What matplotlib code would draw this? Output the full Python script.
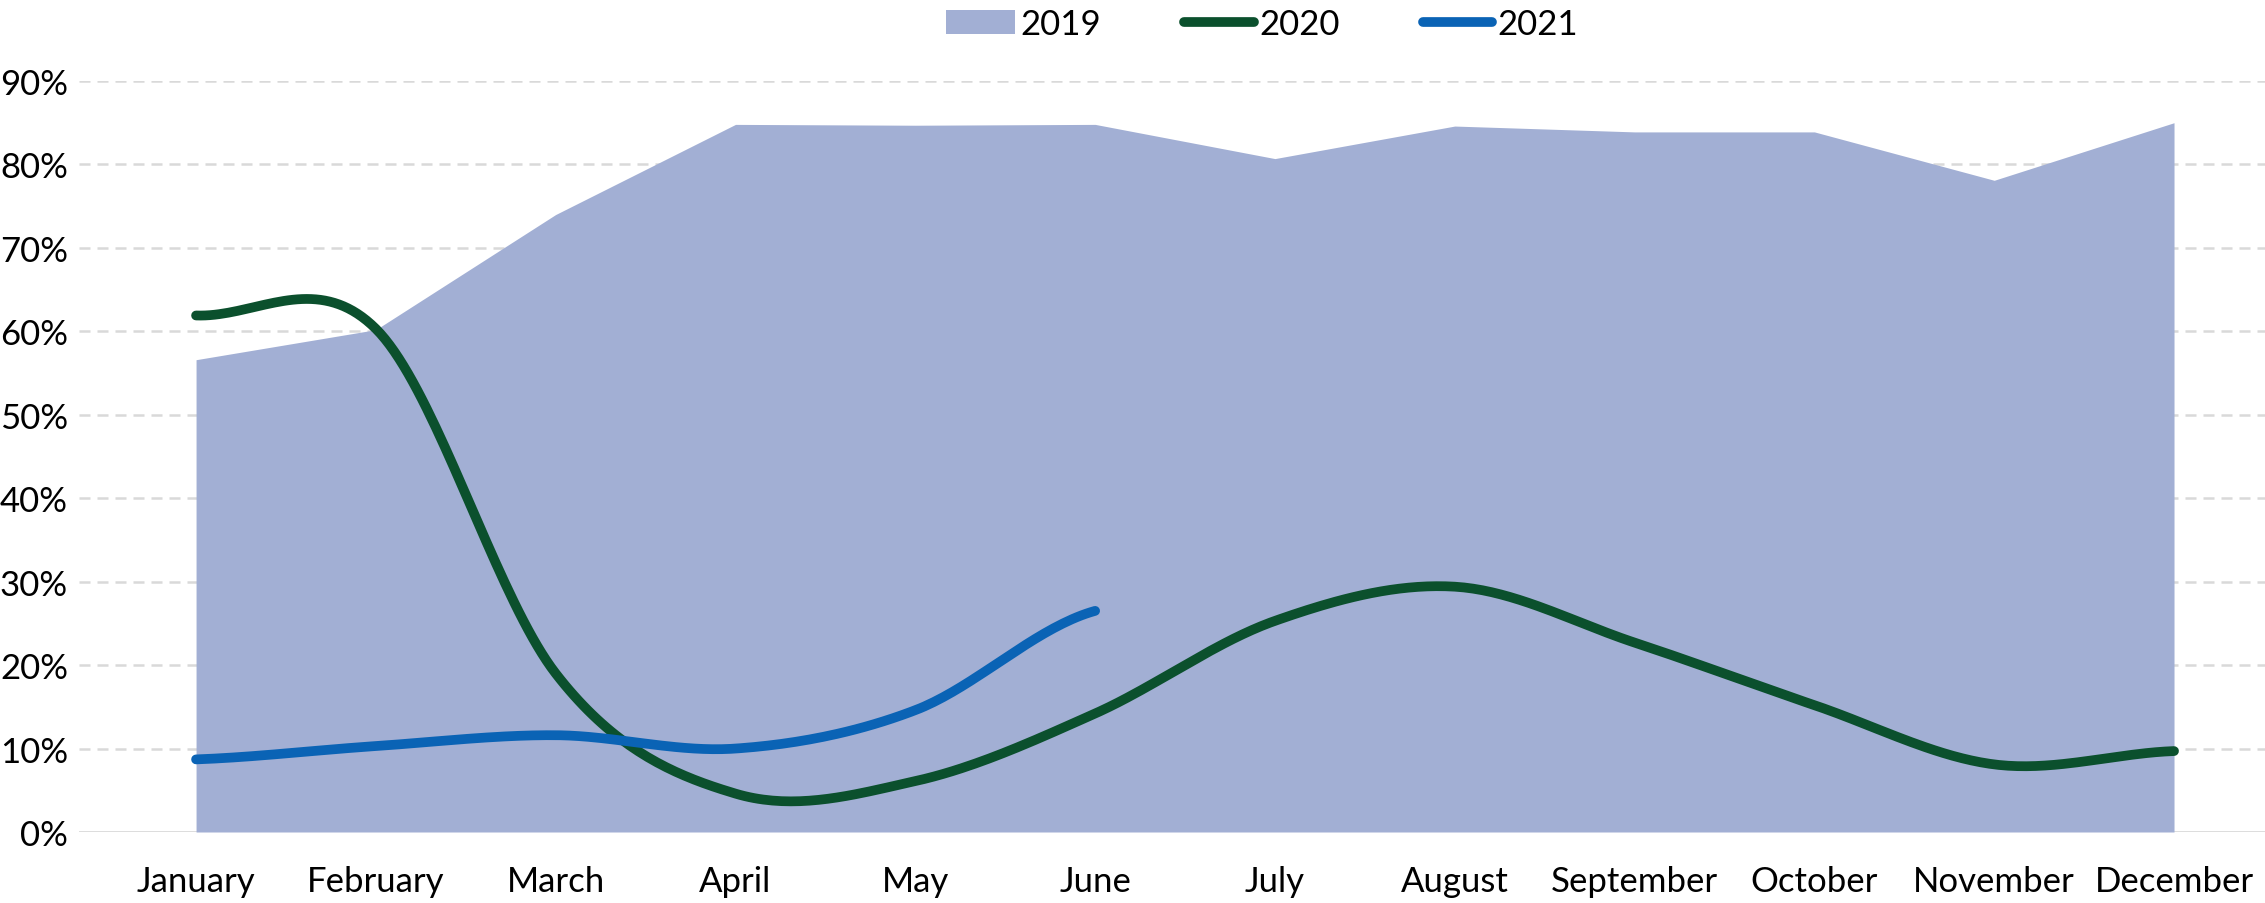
import numpy as np
import matplotlib.pyplot as plt
from matplotlib.patches import Patch
from matplotlib.lines import Line2D
from matplotlib.ticker import PercentFormatter

months = ["January", "February", "March", "April", "May", "June",
          "July", "August", "September", "October", "November", "December"]
y2019 = [56.6, 60.2, 74.0, 84.8, 84.7, 84.8, 80.7, 84.6, 83.9, 83.9, 78.1, 85.0]
y2020 = [61.9, 60.3, 19.0, 4.6, 6.1, 14.2, 25.3, 29.4, 22.7, 15.2, 8.1, 9.7]
y2021 = [8.7, 10.3, 11.6, 10.0, 14.6, 26.5]

c2019 = "#A2AFD4"
c2020 = "#0B502D"
c2021 = "#0A63B5"
grid_c = "#D9D9D9"

plt.rcParams["font.family"] = ["Lato", "DejaVu Sans"]
FS = 25
LW = 7


def smooth(vals, n=40):
    # bezier smoothing like excel's "smoothed line"
    p = np.asarray(vals, dtype=float)
    x = np.arange(len(p), dtype=float)
    xs, ys = [], []
    for i in range(len(p) - 1):
        prev = p[i - 1] if i > 0 else p[i]
        nxt = p[i + 2] if i + 2 < len(p) else p[i + 1]
        c1 = p[i] + (p[i + 1] - prev) / 6
        c2 = p[i + 1] - (nxt - p[i]) / 6
        t = np.linspace(0, 1, n)
        ys.append((1 - t) ** 3 * p[i] + 3 * (1 - t) ** 2 * t * c1 + 3 * (1 - t) * t ** 2 * c2 + t ** 3 * p[i + 1])
        xs.append(x[i] + t)
    return np.concatenate(xs), np.concatenate(ys)


fig = plt.figure(figsize=(22.65, 9.04), dpi=100)
ax = fig.add_axes([79 / 2265, 71 / 904, 2186 / 2265, 751 / 904])

x = np.arange(len(months))
for g in np.arange(10, 91, 10):
    ax.axhline(g, color=grid_c, lw=1.8, ls=(0, (4.4, 2.8)), zorder=0)
ax.axhline(0, color=grid_c, lw=2, zorder=0)

ax.fill_between(x, 0, y2019, color=c2019, lw=0, zorder=1)

sx, sy = smooth(y2020)
ax.plot(sx, sy, color=c2020, lw=LW, solid_capstyle="round", zorder=3)
sx, sy = smooth(y2021)
ax.plot(sx, sy, color=c2021, lw=LW, solid_capstyle="round", zorder=4)

ax.set_xlim(-0.651, 11.506)
ax.set_ylim(0, 90)
ax.set_yticks(np.arange(0, 91, 10))
ax.yaxis.set_major_formatter(PercentFormatter(decimals=0))
ax.set_xticks(x)
ax.set_xticklabels(months)
ax.tick_params(length=0, labelsize=FS)
ax.tick_params(axis="y", pad=8)
ax.tick_params(axis="x", pad=24)
for s in ax.spines.values():
    s.set_visible(False)

handles = [Patch(facecolor=c2019, edgecolor="none"),
           Line2D([], [], color=c2020, lw=LW, solid_capstyle="round"),
           Line2D([], [], color=c2021, lw=LW, solid_capstyle="round")]
fig.legend(handles, ["2019", "2020", "2021"], loc="center", ncol=3,
           bbox_to_anchor=(1262 / 2265, 1 - 25 / 904), frameon=False,
           fontsize=FS, handlelength=2.0, handletextpad=0.15, columnspacing=2.4)

fig.savefig("out.png", dpi=100)
